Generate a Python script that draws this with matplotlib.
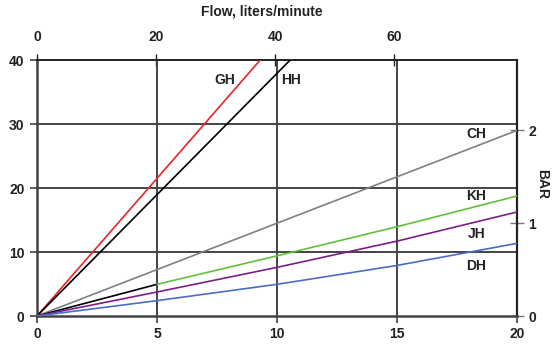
import matplotlib.pyplot as plt

plt.rcParams['font.family'] = ['Liberation Sans', 'DejaVu Sans']
plt.rcParams['font.weight'] = 'bold'

# flow in GPM on the bottom axis, pressure drop in PSI on the left
flow = [0, 5, 10, 15, 20]
gh_flow = [0, 9.3]
gh_psi = [0, 40]
hh_flow = [0, 10.55]
hh_psi = [0, 40]
ch_psi = [0, 7.25, 14.5, 21.75, 29.0]
kh_psi = [0, 4.95, 9.4, 13.95, 18.75]
jh_psi = [0, 3.75, 7.6, 11.7, 16.25]
dh_psi = [0, 2.4, 4.95, 7.9, 11.35]

LPM_PER_GPM = 4.03
PSI_PER_BAR = 14.5

fig = plt.figure(figsize=(5.52, 3.5), dpi=100)
ax = fig.add_axes([37 / 552, 34 / 350, 480 / 552, 256 / 350])

ax.set_xlim(0, 20)
ax.set_ylim(0, 40)

grid_c = '#444444'
for x in [5, 10, 15]:
    ax.axvline(x, color=grid_c, lw=1.4, zorder=1)
for y in [10, 20, 30]:
    ax.axhline(y, color=grid_c, lw=1.4, zorder=1)

lw = 1.2
ax.plot(gh_flow, gh_psi, color='#e8242a', lw=lw, zorder=3)
ax.plot(hh_flow, hh_psi, color='black', lw=lw, zorder=3)
ax.plot(flow, ch_psi, color='#808080', lw=lw, zorder=3)
ax.plot(flow[:2], kh_psi[:2], color='black', lw=lw, zorder=3)
ax.plot(flow[1:], kh_psi[1:], color='#62bf3a', lw=lw, zorder=3)
ax.plot(flow, jh_psi, color='#7a1f88', lw=lw, zorder=3)
ax.plot(flow, dh_psi, color='#4a6cc4', lw=lw, zorder=3)

fs = 10
lab = dict(fontsize=fs, fontweight='bold', ha='center', va='center', color='#222222')
ax.text(7.83, 36.9, 'GH', **lab)
ax.text(10.6, 36.9, 'HH', **lab)
ax.text(18.3, 28.4, 'CH', **lab)
ax.text(18.3, 18.7, 'KH', **lab)
ax.text(18.3, 12.8, 'JH', **lab)
ax.text(18.3, 7.8, 'DH', **lab)

ax.spines['left'].set_color(grid_c)
ax.spines['left'].set_linewidth(1.8)
ax.spines['bottom'].set_color(grid_c)
ax.spines['bottom'].set_linewidth(1.8)
ax.spines['right'].set_color('#222222')
ax.spines['right'].set_linewidth(1.6)
ax.spines['top'].set_color('#222222')
ax.spines['top'].set_linewidth(1.4)

ax.set_xticks([0, 5, 10, 15, 20])
ax.set_yticks([0, 10, 20, 30, 40])
ax.tick_params(axis='both', labelsize=fs, color=grid_c, width=1.2, length=5, pad=3,
               labelcolor='#222222')
ax.tick_params(axis='y', pad=4)
for t in ax.get_xticklabels() + ax.get_yticklabels():
    t.set_fontweight('bold')

top = ax.secondary_xaxis('top', functions=(lambda g: g * LPM_PER_GPM, lambda l: l / LPM_PER_GPM))
top.set_xticks([0, 20, 40, 60])
top.tick_params(direction='inout', length=9, width=1.0, color='#222222', labelsize=fs,
                labelcolor='#222222', pad=7)
top.spines['top'].set_visible(False)
for t in top.get_xticklabels():
    t.set_fontweight('bold')

right = ax.secondary_yaxis('right', functions=(lambda p: p / PSI_PER_BAR, lambda b: b * PSI_PER_BAR))
right.set_yticks([0, 1, 2])
right.tick_params(direction='inout', length=10, width=1.0, color='#777777', labelsize=fs,
                  labelcolor='#222222', pad=3)
right.spines['right'].set_visible(False)
for t in right.get_yticklabels():
    t.set_fontweight('bold')

fig.text(262 / 552, 1 - 12 / 350, 'Flow, liters/minute', fontsize=fs, fontweight='bold',
         ha='center', va='center', color='#222222')
fig.text(549 / 552, 1 - 184 / 350, 'BAR', fontsize=fs, fontweight='bold', rotation=270,
         ha='right', va='center', color='#222222')

fig.savefig('out.png', dpi=100)
